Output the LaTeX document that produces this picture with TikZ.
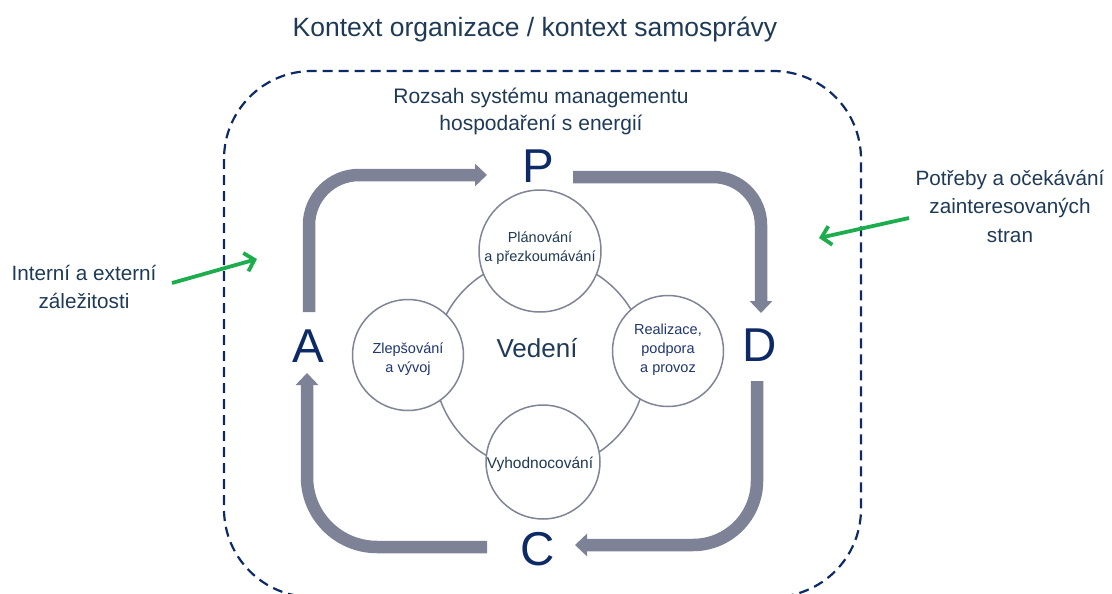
\documentclass[tikz,border=0pt]{standalone}
\usepackage{fontspec}
\setmainfont{Liberation Sans}
\usetikzlibrary{arrows.meta}
\definecolor{navy}{HTML}{0D2A66}
\definecolor{slate}{HTML}{1F3A56}
\definecolor{cblue}{HTML}{1F3670}
\definecolor{cgray}{HTML}{7F8496}
\definecolor{agray}{HTML}{7D8296}
\definecolor{grn}{HTML}{1EAD4E}
\tikzset{
  lbl/.style={inner sep=0pt, anchor=base, text=slate},
  ttl/.style={lbl, font=\fontsize{26.5}{30}\selectfont},
  midtxt/.style={lbl, font=\fontsize{21}{25}\selectfont},
  sidetxt/.style={lbl, font=\fontsize{20.7}{25}\selectfont},
  letter/.style={lbl, text=navy, font=\fontsize{47.5}{52}\selectfont},
  ctext/.style={lbl, font=\fontsize{14.5}{17}\selectfont},
  ring/.style={circle, draw=cgray, line width=1.5pt, fill=white, inner sep=0pt},
  pdcaarrow/.style={draw=agray, line width=12.5pt, -{Triangle[length=12pt,width=22pt]}},
  grnarrow/.style={draw=grn, line width=3.8pt, -{Straight Barb[length=9pt,width=19pt]}},
  frame/.style={draw=navy, line width=2.2pt, dash pattern=on 10pt off 6pt, rounded corners=88pt}
}
\begin{document}
\begin{tikzpicture}[x=1pt,y=-1pt]
\useasboundingbox (0,0) rectangle (1112,594);
% outer dashed frame
\draw[frame] (224,71) rectangle (861,597);
% title
\node[ttl] (title) at (535,37) {Kontext organizace / kontext samosprávy};
\node[midtxt] (scope1) at (541,103) {Rozsah systému managementu};
\node[midtxt] (scope2) at (541,131) {hospodaření s energií};
% side texts
\node[sidetxt] (int1) at (84,280) {Interní a externí};
\node[sidetxt] (int2) at (84,308) {záležitosti};
\node[sidetxt] (need1) at (1010,185) {Potřeby a očekávání};
\node[sidetxt] (need2) at (1010,213) {zainteresovaných};
\node[sidetxt] (need3) at (1010,242) {stran};
% green arrows
\coordinate (g1s) at (172,283);
\coordinate (g1e) at (257,259);
\coordinate (g2s) at (909,218);
\coordinate (g2e) at (819,238);
\draw[grnarrow] (g1s) -- (g1e);
\draw[grnarrow] (g2s) -- (g2e);
% central circles
\node[circle, draw=cgray, line width=1.5pt, inner sep=0pt, minimum size=212pt] (lead) at (540,364) {};
\node[ring, minimum size=122pt] (plan) at (540,251) {};
\node[ring, minimum size=111pt] (impr) at (408,355) {};
\node[ring, minimum size=111pt] (real) at (668,351) {};
\node[ring, minimum size=114pt] (eval) at (543,462) {};
\node[lbl, font=\fontsize{26}{30}\selectfont] (ved) at (537,357) {Vedení};
\node[ctext] (plan1) at (540,242) {Plánování};
\node[ctext] (plan2) at (540,261) {a přezkoumávání};
\node[ctext, text=cblue] (impr1) at (408,353) {Zlepšování};
\node[ctext, text=cblue] (impr2) at (408,372) {a vývoj};
\node[ctext, text=cblue] (real1) at (668,334) {Realizace,};
\node[ctext, text=cblue] (real2) at (668,353) {podpora};
\node[ctext, text=cblue] (real3) at (668,372) {a provoz};
\node[ctext, font=\fontsize{15.5}{18}\selectfont] (eval1) at (540,468) {Vyhodnocování};
% PDCA letters
\node[letter] (P) at (538,182) {P};
\node[letter] (D) at (760,361) {D};
\node[letter] (C) at (538,565) {C};
\node[letter] (A) at (308,362) {A};
% PDCA arrows
\coordinate (ap0) at (309,312);
\coordinate (ap1) at (309,175);
\coordinate (ap2) at (487,175);
\coordinate (pd0) at (573,177);
\coordinate (pd1) at (761,177);
\coordinate (pd2) at (761,313);
\coordinate (dc0) at (757,381);
\coordinate (dc1) at (757,545);
\coordinate (dc2) at (575,545);
\coordinate (ca0) at (487,547);
\coordinate (ca1) at (307,547);
\coordinate (ca2) at (307,373);
\draw[pdcaarrow, rounded corners=50pt] (ap0) -- (ap1) -- (ap2);
\draw[pdcaarrow, rounded corners=48pt] (pd0) -- (pd1) -- (pd2);
\draw[pdcaarrow, rounded corners=64pt] (dc0) -- (dc1) -- (dc2);
\draw[pdcaarrow, rounded corners=70pt] (ca0) -- (ca1) -- (ca2);
\end{tikzpicture}
\end{document}
